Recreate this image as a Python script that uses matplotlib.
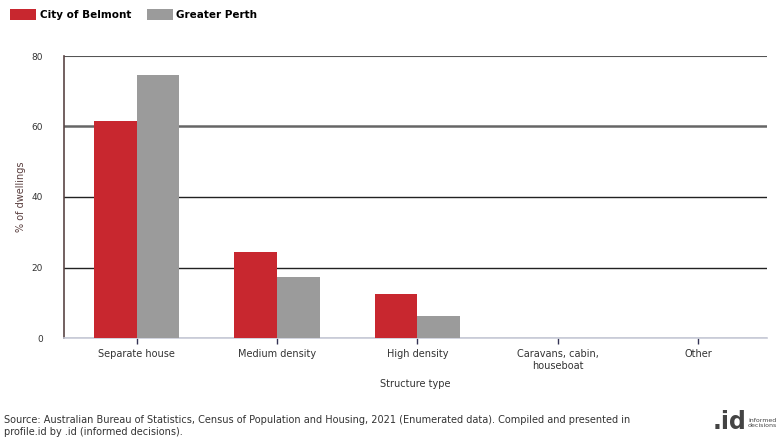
import matplotlib
matplotlib.use("Agg")
import matplotlib.pyplot as plt
import numpy as np

categories = ["Separate house", "Medium density", "High density",
              "Caravans, cabin,\nhouseboat", "Other"]
belmont = [61.7, 24.4, 12.6, 0.0, 0.1]
perth = [74.7, 17.3, 6.1, 0.1, 0.1]
series_names = ["City of Belmont", "Greater Perth"]
yticks = [0, 20, 40, 60, 80]

red = "#C8272F"
gray = "#9B9B9B"
txt = "#333333"

plt.rcParams['font.family'] = ['DejaVu Sans']

fig = plt.figure(figsize=(7.84, 4.41), dpi=100)
ax = fig.add_axes([64/784, 1-338/441, (767-64)/784, (338-56)/441])

x = np.arange(len(categories))
w = 0.305
b1 = ax.bar(x - w/2, belmont, width=w, color=red, label=series_names[0], zorder=3)
b2 = ax.bar(x + w/2, perth, width=w, color=gray, label=series_names[1], zorder=3)

ax.set_xlim(-0.517, len(categories) - 0.51)
ax.set_ylim(0, 80)
ax.set_yticks(yticks)
ax.set_yticklabels([str(v) for v in yticks], fontsize=6.5, color=txt)
ax.tick_params(axis='y', length=0, pad=15)
ax.set_xticks(x)
ax.set_xticklabels(categories, fontsize=7, color=txt)
ax.tick_params(axis='x', length=4, width=1, color="#333355", pad=4)

ax.yaxis.grid(True, color="#222222", linewidth=1.0, zorder=0)
ax.set_axisbelow(True)
gl = ax.get_ygridlines()
gl[-1].set_color("#555555")
gl[-1].set_linewidth(1.5)
gl[3].set_color("#666666")
gl[3].set_linewidth(1.8)

for s in ["top", "right"]:
    ax.spines[s].set_visible(False)
ax.spines["left"].set_color("#5a4545")
ax.spines["left"].set_linewidth(1.2)
ax.spines["bottom"].set_color("#c8cbd8")
ax.spines["bottom"].set_linewidth(1.2)

ax.set_ylabel("% of dwellings", fontsize=7, color="#5a3f3f", labelpad=4)
ax.set_xlabel("Structure type", fontsize=7, color=txt, labelpad=6)

fig.legend(handles=[b1, b2], loc="upper left", bbox_to_anchor=(0.004, 0.995),
           ncol=2, frameon=False, handlelength=2.5,
           handleheight=1.2, handletextpad=0.3, columnspacing=1.5,
           borderaxespad=0.3, prop={'weight': 'bold', 'size': 7.5})

fig.text(4/784, 1-426/441,
         "Source: Australian Bureau of Statistics, Census of Population and Housing, 2021 (Enumerated data). Compiled and presented in\n"
         "profile.id by .id (informed decisions).",
         fontsize=7, color=txt, va="center", ha="left", linespacing=1.25)

fig.text(713/784, 1-422/441, ".id", fontsize=17, fontweight="bold", color="#444444",
         va="center", ha="left")
fig.text(748/784, 1-423/441, "informed\ndecisions", fontsize=4.5, color="#444444",
         va="center", ha="left", linespacing=1.0)

fig.savefig("out.png", dpi=100)
